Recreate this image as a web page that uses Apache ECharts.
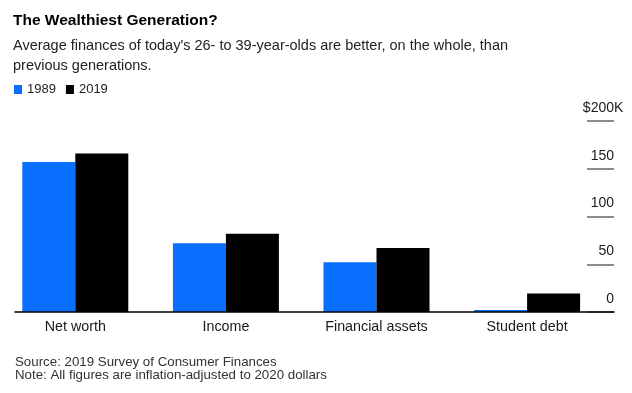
<!DOCTYPE html>
<html><head><meta charset="utf-8">
<script src="https://cdn.jsdelivr.net/npm/echarts@6/dist/echarts.min.js"></script>
<style>html,body{margin:0;padding:0;background:#fff}#c{width:632px;height:393px}</style>
</head><body><div id="c"></div>
<script>
const categories = ['Net worth', 'Income', 'Financial assets', 'Student debt'];
const values1989 = [157, 72, 52, 2];
const values2019 = [166, 82, 67, 19.5];
const yTicks = [0, 50, 100, 150, 200];
const seriesNames = ['1989', '2019'];

const FONT = '"Liberation Sans", Arial, Helvetica, sans-serif';
const chart = echarts.init(document.getElementById('c'), null, {renderer: 'canvas'});
chart.setOption({
  backgroundColor: '#fff',
  animation: false,
  textStyle: {fontFamily: FONT},
  title: [
    {text: 'The Wealthiest Generation?', left: 13, top: 11, padding: 0,
     textStyle: {fontFamily: FONT, fontSize: 15.5, fontWeight: 'bold', color: '#000', lineHeight: 20}},
    {text: "Average finances of today's 26- to 39-year-olds are better, on the whole, than\nprevious generations.",
     left: 13, top: 36, padding: 0,
     textStyle: {fontFamily: FONT, fontSize: 14.5, fontWeight: 'normal', color: '#222', lineHeight: 20}},
    {text: 'Source: 2019 Survey of Consumer Finances\nNote: All figures are inflation-adjusted to 2020 dollars',
     left: 15, top: 356, padding: 0,
     textStyle: {fontFamily: FONT, fontSize: 13.3, fontWeight: 'normal', color: '#333', lineHeight: 13}}
  ],
  legend: {
    data: seriesNames, left: 14, top: 83, padding: 0,
    icon: 'rect', itemWidth: 8, itemHeight: 9, itemGap: 10,
    textStyle: {fontFamily: FONT, fontSize: 13, color: '#222'}
  },
  grid: [
    {left: -8, right: 29.6, top: 121, bottom: 81},
    {left: 587, right: 18, top: 121, bottom: 81},
    {left: 15, right: 18, top: 121, bottom: 81}
  ],
  xAxis: [
    {type: 'category', data: categories, gridIndex: 0,
     axisLine: {show: false}, axisTick: {show: false},
     axisLabel: {fontFamily: FONT, fontSize: 14.3, color: '#1a1a1a', margin: 8}},
    {type: 'category', data: [''], gridIndex: 1, show: false},
    {type: 'category', data: [''], gridIndex: 2, z: 10,
     axisLine: {show: true, lineStyle: {color: '#000', width: 1.5}},
     axisTick: {show: false}, axisLabel: {show: false}}
  ],
  yAxis: [
    {type: 'value', gridIndex: 0, min: 0, max: 200, interval: 50, show: false},
    {type: 'value', gridIndex: 1, min: 0, max: 200, interval: 50, position: 'right',
     axisLine: {show: false}, axisTick: {show: false},
     splitLine: {show: true, lineStyle: {color: '#8c8c8c', width: 2}},
     axisLabel: {inside: true, margin: 0, fontFamily: FONT, fontSize: 14, color: '#1a1a1a',
       verticalAlign: 'middle', padding: [0, 0, 26, 0],
       formatter: function (v) { return v === yTicks[yTicks.length - 1] ? '{n|$' + v + '}{k|K}' : String(v); },
       rich: {
         n: {align: 'left', fontFamily: FONT, fontSize: 14, color: '#1a1a1a'},
         k: {align: 'left', width: 0, fontFamily: FONT, fontSize: 14, color: '#1a1a1a'}
       }}},
    {type: 'value', gridIndex: 2, min: 0, max: 200, show: false}
  ],
  series: [
    {name: seriesNames[0], type: 'bar', xAxisIndex: 0, yAxisIndex: 0, data: values1989,
     barWidth: 53, barGap: '0%', itemStyle: {color: '#0a6fff'}},
    {name: seriesNames[1], type: 'bar', xAxisIndex: 0, yAxisIndex: 0, data: values2019,
     barWidth: 53, barGap: '0%', itemStyle: {color: '#000'}}
  ]
});
</script></body></html>
